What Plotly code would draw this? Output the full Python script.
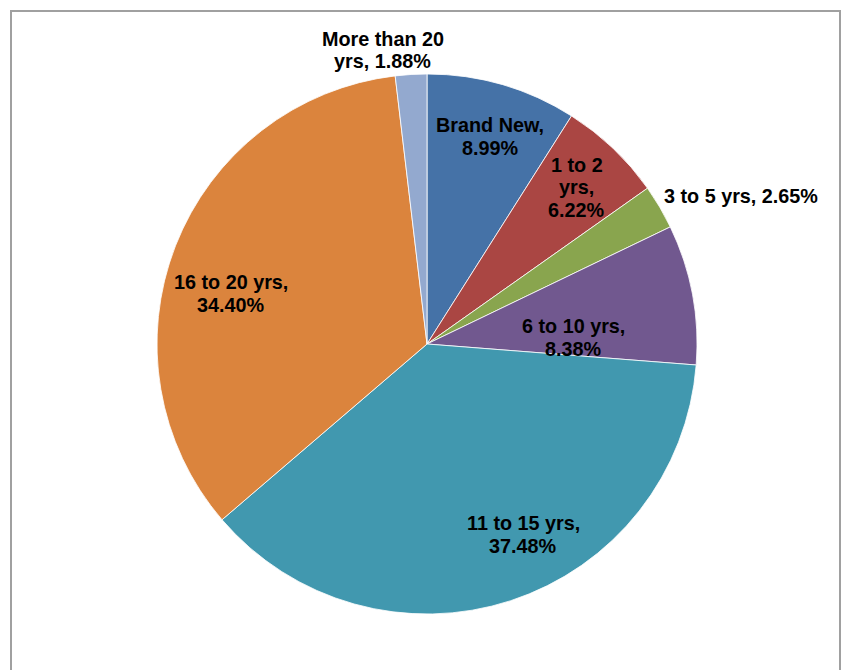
import math
import plotly.graph_objects as go

# ---- data ----
categories = ["Brand New", "1 to 2 yrs", "3 to 5 yrs", "6 to 10 yrs",
              "11 to 15 yrs", "16 to 20 yrs", "More than 20 yrs"]
values = [8.99, 6.22, 2.65, 8.38, 37.48, 34.40, 1.88]
label_lines = [
    ["Brand New,", "8.99%"],
    ["1 to 2", "yrs,", "6.22%"],
    ["3 to 5 yrs, 2.65%"],
    ["6 to 10 yrs,", "8.38%"],
    ["11 to 15 yrs,", "37.48%"],
    ["16 to 20 yrs,", "34.40%"],
    ["More than 20", "yrs, 1.88%"],
]
colors = ["#4572A7", "#AA4643", "#89A54E", "#71588F",
          "#4198AF", "#DB843D", "#93A9CF"]

# ---- layout / style ----
W, H = 843, 670
CX, CY, R = 427, 344, 270
# per-label placement: radial factor, pixel nudge (dx, dy), anchor
label_style = [
    (0.80, 3, 0, "center"),
    (0.80, 1, 0, "center"),
    (1.10, -21, 3, "left"),
    (0.55, 1, 21, "center"),
    (0.77, 32, -7, "center"),
    (0.75, -7, 23, "center"),
    (1.09, -27, 0, "center"),
]
FONT_SIZE = 19.8
LINE_H = 22.5

fig = go.Figure(go.Pie(
    labels=categories,
    values=values,
    sort=False,
    direction="clockwise",
    rotation=0,
    marker=dict(colors=colors, line=dict(color="rgba(255,255,255,0.8)", width=1)),
    textinfo="none",
    hoverinfo="label+percent",
    showlegend=False,
    domain=dict(x=[(CX - R) / W, (CX + R) / W], y=[1 - (CY + R) / H, 1 - (CY - R) / H]),
))

total = sum(values)
cum = 0.0
annotations = []
for v, lines, (rf, dx, dy, anchor) in zip(values, label_lines, label_style):
    mid = (cum + v / 2) / total * 2 * math.pi
    cum += v
    px = CX + rf * R * math.sin(mid) + dx
    py = CY - rf * R * math.cos(mid) + dy
    n = len(lines)
    for i, line in enumerate(lines):
        ly = py + (i - (n - 1) / 2) * LINE_H
        annotations.append(dict(
            x=px / W, y=1 - ly / H, xref="paper", yref="paper",
            text=line, showarrow=False, xanchor=anchor, yanchor="middle",
            font=dict(family="Liberation Sans, Arial, sans-serif", size=FONT_SIZE,
                      color="#000000", weight="bold"),
        ))

fig.update_layout(
    width=W, height=H,
    margin=dict(l=0, r=0, t=0, b=0),
    paper_bgcolor="white",
    plot_bgcolor="white",
    annotations=annotations,
    shapes=[dict(type="rect", xref="paper", yref="paper",
                 x0=11 / W, x1=840 / W, y0=-0.05, y1=1 - 11 / H,
                 line=dict(color="#A0A0A0", width=2), fillcolor="rgba(0,0,0,0)")],
)

fig.write_html("out.html")
